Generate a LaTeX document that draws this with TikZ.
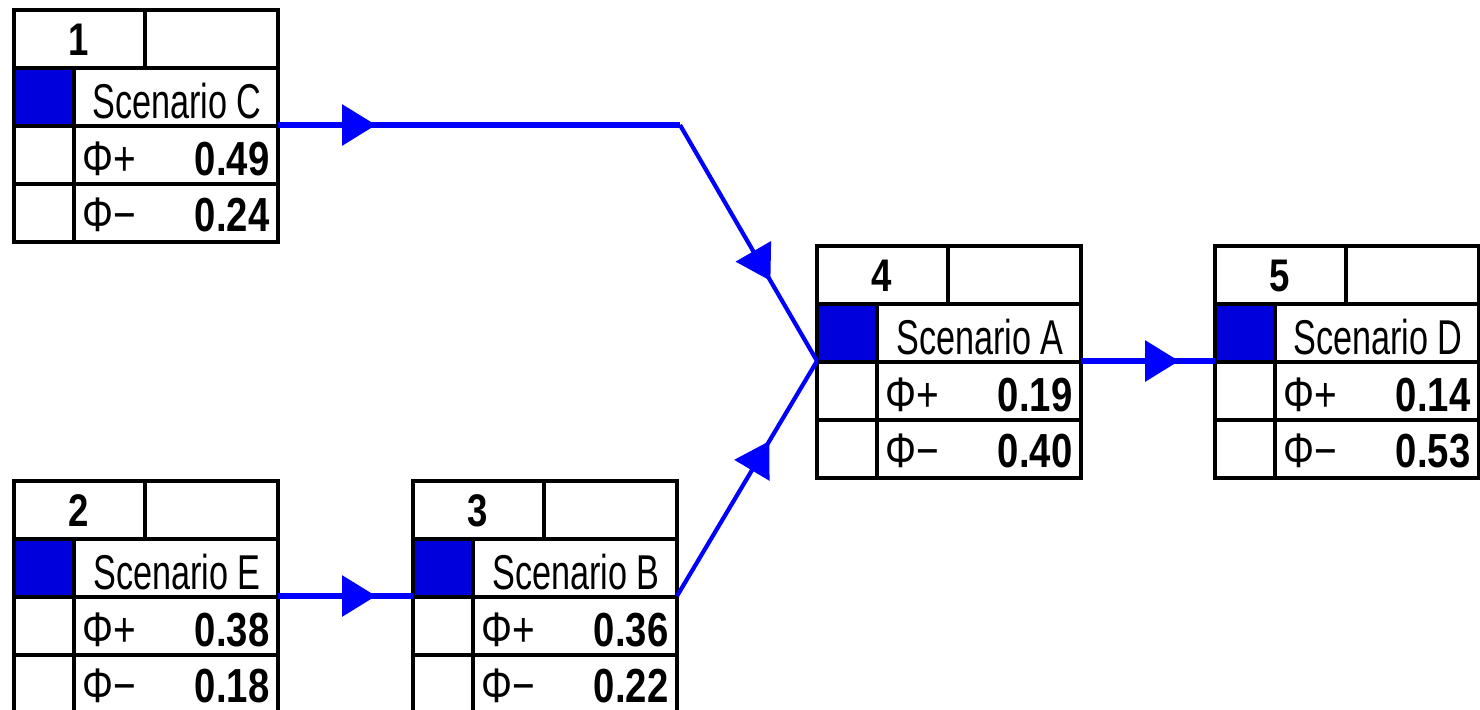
\documentclass[tikz,border=0pt]{standalone}
\usepackage{fontspec}
\setmainfont{Liberation Sans}
\newfontfamily\labelfont[FakeStretch=0.70]{Liberation Sans}
\newfontfamily\valuefont[FakeStretch=0.80]{Liberation Sans}
\usetikzlibrary{arrows.meta,decorations.markings}

\definecolor{wireblue}{RGB}{0,0,255}
\definecolor{cellblue}{RGB}{0,0,220}

\tikzset{
  x=0.01cm, y=-0.01cm,
  boxframe/.style={draw=black, line width=0.035cm, inner sep=0pt, outer sep=0pt,
    minimum width=2.64cm, minimum height=2.32cm, anchor=north west},
  gridline/.style={draw=black, line width=0.035cm},
  numtext/.style={font=\valuefont\bfseries\fontsize{13}{15}\selectfont, inner sep=0pt, anchor=base},
  titletext/.style={font=\labelfont\fontsize{13.9}{15}\selectfont, inner sep=0pt, anchor=base},
  phitext/.style={font=\valuefont\fontsize{13.8}{15}\selectfont, inner sep=0pt, anchor=base west},
  valtext/.style={font=\valuefont\bfseries\fontsize{13.6}{15}\selectfont, inner sep=0pt, anchor=base east},
  wire/.style={draw=wireblue, line width=0.062cm},
  slantwire/.style={draw=wireblue, line width=0.042cm},
  headmark/.style={postaction={decorate}, decoration={markings,
    mark=at position #1 with {\arrow{Triangle[length=0.34cm, width=0.40cm]}}}},
}

% A scenario card: name, top-left x, top-left y, rank, title, phi+ value, phi- value
\newcommand{\scenariocard}[7]{%
  \begin{scope}[shift={(#2,#3)}]
    \fill[cellblue] (0,58) rectangle (60,116);
    \node[boxframe] (#1) at (0,0) {};
    \draw[gridline] (0,58) -- (264,58) (0,116) -- (264,116) (0,174) -- (264,174)
      (131,0) -- (131,58) (60,58) -- (60,232);
    \node[numtext] (#1-rank) at (65,45) {#4};
    \node[titletext] (#1-title) at (163,108) {#5};
    \node[phitext] (#1-plus) at (68,165) {Φ+};
    \node[valtext] (#1-plusval) at (256,165) {#6};
    \node[phitext] (#1-minus) at (68,221) {Φ−};
    \node[valtext] (#1-minusval) at (256,221) {#7};
    \coordinate (#1-in) at (0,115);
    \coordinate (#1-out) at (264,115);
  \end{scope}}

\begin{document}
\begin{tikzpicture}
  \useasboundingbox (0,0) rectangle (1480,709);
  \clip (0,0) rectangle (1480,709);
  \fill[white] (0,0) rectangle (1480,709);

  \scenariocard{c}{14}{10}{1}{Scenario C}{0.49}{0.24}
  \scenariocard{e}{14}{481}{2}{Scenario E}{0.38}{0.18}
  \scenariocard{b}{413}{481}{3}{Scenario B}{0.36}{0.22}
  \scenariocard{a}{817}{246}{4}{Scenario A}{0.19}{0.40}
  \scenariocard{d}{1215}{246}{5}{Scenario D}{0.14}{0.53}

  \coordinate (bend) at (680,125);

  % flows between the scenarios
  \draw[wire, headmark=0.98cm] (c-out) -- (bend);
  \draw[slantwire, headmark=0.66] (bend) -- (a-in);
  \draw[wire, headmark=0.98cm] (e-out) -- (b-in);
  \draw[slantwire, headmark=0.66] (b-out) -- (a-in);
  \draw[wire, headmark=0.98cm] (a-out) -- (d-in);
\end{tikzpicture}
\end{document}
